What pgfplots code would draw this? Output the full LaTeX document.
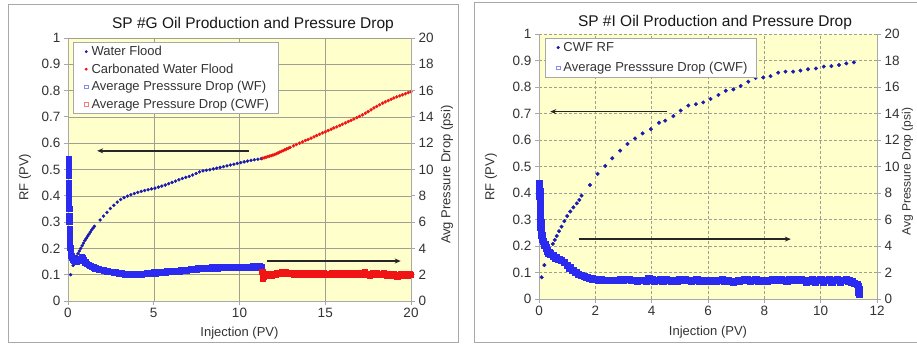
\documentclass[border=0pt]{standalone}
\usepackage{fontspec}
\setmainfont{Liberation Sans}
\usepackage{pgfplots}
\pgfplotsset{compat=1.18}
\usetikzlibrary{arrows.meta}
\definecolor{bgY}{HTML}{FFFFCC}
\definecolor{rfBlue}{HTML}{1A1AB0}
\definecolor{pBlue}{HTML}{2A2AF0}
\definecolor{cRed}{HTML}{F01414}
\definecolor{frameG}{HTML}{A8A8A8}
\definecolor{gridG}{HTML}{A0A090}
\definecolor{txt}{HTML}{333333}
\tikzset{arr/.style={draw=black!85, line width=1.5pt, -{Stealth[length=6pt,width=5pt]}}}
\pgfplotsset{
  base/.style={scale only axis, anchor=south west,
    /pgf/number format/assume math mode=true,
    font=\fontsize{13}{15}\selectfont,
    tick label style={color=txt, font=\fontsize{13.5}{15}\selectfont},
    label style={color=txt},
    axis line style={frameG, line width=0.8pt},
    tick style={frameG, line width=0.8pt},
    major tick length=4pt, tick align=outside,
    legend cell align=left,
    legend image code/.code={\path (0pt,-2pt) (8.5pt,2pt); \draw[mark repeat=2,mark phase=2,##1] plot coordinates {(0pt,0pt) (5.5pt,0pt) (11pt,0pt)};},
    legend style={draw=frameG, fill=white, text=txt, font=\fontsize{13}{15}\selectfont,
      row sep=2.6pt, inner xsep=7pt, inner ysep=2pt, line width=0.6pt},
  },
}
\begin{document}
\begin{tikzpicture}
\path[use as bounding box] (0pt,0pt) rectangle (917pt,345pt);
\draw[frameG, line width=1pt, fill=white] (8pt,3pt) rectangle (458pt,340pt);
\draw[frameG, line width=1pt, fill=white] (474pt,3pt) rectangle (940pt,342pt);

% ---------------- LEFT PANEL: RF axis ----------------
\begin{axis}[base, at={(68pt,44pt)}, width=343pt, height=263pt,
  xmin=0, xmax=20, ymin=0, ymax=1,
  axis x line*=bottom, axis y line*=left,
  axis background/.style={fill=bgY},
  xtick={0,5,10,15,20},
  ytick={0,0.1,0.2,0.3,0.4,0.5,0.6,0.7,0.8,0.9,1},
  yticklabels={0,0.1,0.2,0.3,0.4,0.5,0.6,0.7,0.8,0.9,1},
  grid=major, major grid style={gridG, line width=0.5pt},
  xlabel={Injection (PV)}, ylabel={RF (PV)},
  xlabel style={at={(axis description cs:0.5,-0.122)}, anchor=center},
  ylabel style={at={(axis description cs:-0.125,0.47)}, anchor=center},
]
\addplot[only marks, mark=*, mark size=1.5pt, color=rfBlue] coordinates {
(0.15,0.10) (0.3,0.135) (0.45,0.16)
(0.5,0.17) (0.58,0.18) (0.66,0.19) (0.74,0.20) (0.82,0.21) (0.9,0.22) (0.98,0.23)
(1.06,0.238) (1.14,0.246) (1.22,0.254) (1.3,0.262) (1.38,0.27) (1.46,0.277) (1.54,0.284)
(1.87,0.308) (2.07,0.323) (2.27,0.337) (2.47,0.352) (2.67,0.364) (2.87,0.376) (3.07,0.386)
(3.27,0.393) (3.47,0.399) (3.67,0.404) (3.87,0.409) (4.07,0.413) (4.27,0.417) (4.47,0.42)
(4.67,0.423) (4.87,0.426) (5.07,0.429) (5.27,0.433) (5.47,0.437) (5.67,0.441) (5.87,0.446)
(6.07,0.451) (6.27,0.456) (6.47,0.461) (6.67,0.466) (6.87,0.47) (7.07,0.474) (7.27,0.479)
(7.47,0.485) (7.67,0.491) (7.87,0.495) (8.07,0.497) (8.27,0.499) (8.47,0.502) (8.67,0.505)
(8.87,0.508) (9.07,0.511) (9.27,0.514) (9.47,0.517) (9.67,0.52) (9.87,0.523) (10.07,0.526)
(10.27,0.529) (10.47,0.532) (10.67,0.535) (10.87,0.537) (11.07,0.539) (11.27,0.541)
};
\addplot[only marks, mark=*, mark size=1.5pt, color=cRed] coordinates {
(11.35,0.543) (11.45,0.545) (11.55,0.547) (11.65,0.549) (11.75,0.551) (11.85,0.553) (11.95,0.555)
(12.05,0.557) (12.15,0.56) (12.25,0.563) (12.35,0.566) (12.45,0.569) (12.55,0.572) (12.65,0.575)
(12.75,0.578) (12.85,0.581) (12.95,0.584) (13.15,0.59) (13.32,0.595) (13.5,0.6) (13.67,0.605)
(13.84,0.61) (14.0,0.614) (14.17,0.619) (14.34,0.624) (14.5,0.629) (14.67,0.634) (14.84,0.639)
(15.0,0.643) (15.17,0.648) (15.34,0.653) (15.5,0.658) (15.67,0.662) (15.84,0.667) (16.0,0.672)
(16.17,0.677) (16.34,0.682) (16.5,0.687) (16.67,0.692) (16.84,0.697) (17.0,0.702) (17.17,0.708)
(17.34,0.714) (17.5,0.72) (17.67,0.727) (17.84,0.734) (18.0,0.74) (18.17,0.746) (18.34,0.752)
(18.5,0.757) (18.67,0.762) (18.84,0.767) (19.0,0.772) (19.17,0.776) (19.34,0.78) (19.5,0.784)
(19.67,0.788) (19.84,0.792) (20.0,0.795)
};
\draw[arr] (axis cs:10.55,0.571) -- (axis cs:1.7,0.571);
\draw[arr] (axis cs:11.6,0.152) -- (axis cs:19.4,0.152);
\end{axis}

% ---------------- LEFT PANEL: pressure axis ----------------
\begin{axis}[base, at={(68pt,44pt)}, width=343pt, height=263pt,
  xmin=0, xmax=20, ymin=0, ymax=20, clip=false,
  axis x line=none, axis y line*=right,
  ytick={0,2,4,6,8,10,12,14,16,18,20},
  ylabel={Avg Pressure Drop (psi)},
  ylabel style={at={(axis description cs:1.105,0.48)}, anchor=center},
  legend style={at={(0.015,0.985)}, anchor=north west},
]
\addlegendimage{only marks, mark=*, mark size=1.1pt, color=rfBlue}
\addlegendentry{Water Flood}
\addlegendimage{only marks, mark=*, mark size=1.1pt, color=cRed}
\addlegendentry{Carbonated Water Flood}
\addlegendimage{only marks, mark=square, mark size=1.7pt, color=pBlue!55, line width=0.6pt}
\addlegendentry{Average Presssure Drop (WF)}
\addlegendimage{only marks, mark=square, mark size=1.7pt, color=cRed!55, line width=0.6pt}
\addlegendentry{Average Pressure Drop (CWF)}
\addplot[forget plot, only marks, mark=square*, mark size=2.7pt, line width=0.6pt, color=pBlue, fill=pBlue] coordinates {
(0.03,10.8) (0.03,10.4) (0.04,10.0) (0.04,9.5) (0.05,9.0) (0.05,8.5) (0.06,8.0) (0.06,7.5)
(0.07,7.0) (0.07,6.5) (0.08,6.0) (0.09,5.5) (0.1,5.1) (0.11,4.7) (0.12,4.35) (0.14,4.05)
(0.16,3.8) (0.18,3.6) (0.2,3.45) (0.25,3.3) (0.3,3.15) (0.35,3.1) (0.4,3.05) (0.5,3.0)
(0.6,3.05) (0.7,3.2) (0.8,3.35) (0.85,3.3) (0.9,3.15) (1.0,2.95) (1.1,2.85) (1.2,2.75)
(1.3,2.68) (1.4,2.6) (1.5,2.55) (1.6,2.5) (1.7,2.46) (1.8,2.42) (1.9,2.38) (2.0,2.35)
(2.1,2.32) (2.2,2.3) (2.3,2.27) (2.4,2.24) (2.5,2.22) (2.6,2.2) (2.7,2.18) (2.8,2.17)
(2.9,2.14) (3.0,2.12) (3.1,2.1) (3.2,2.08) (3.3,2.02) (3.4,2.06) (3.5,2.01) (3.6,2.04)
(3.7,2.0) (3.8,2.06) (3.9,2.01) (4.0,2.04) (4.1,2.0) (4.2,2.06) (4.3,2.03) (4.4,2.08)
(4.5,2.05) (4.6,2.12) (4.7,2.08) (4.8,2.14) (4.9,2.1) (5.0,2.17) (5.1,2.12) (5.2,2.18)
(5.3,2.14) (5.4,2.22) (5.5,2.16) (5.6,2.23) (5.7,2.18) (5.8,2.25) (5.9,2.21) (6.0,2.26)
(6.1,2.22) (6.2,2.29) (6.3,2.24) (6.4,2.31) (6.5,2.27) (6.6,2.33) (6.7,2.29) (6.8,2.36)
(6.9,2.32) (7.0,2.39) (7.1,2.35) (7.2,2.42) (7.3,2.38) (7.4,2.45) (7.5,2.41) (7.6,2.48)
(7.7,2.44) (7.8,2.5) (7.9,2.46) (8.0,2.53) (8.1,2.47) (8.2,2.54) (8.3,2.48) (8.4,2.55)
(8.5,2.5) (8.6,2.57) (8.7,2.5) (8.8,2.56) (8.9,2.51) (9.0,2.58) (9.1,2.52) (9.2,2.57)
(9.3,2.51) (9.4,2.59) (9.5,2.53) (9.6,2.58) (9.7,2.52) (9.8,2.6) (9.9,2.54) (10.0,2.59)
(10.1,2.53) (10.2,2.6) (10.3,2.55) (10.4,2.61) (10.5,2.54) (10.6,2.6) (10.7,2.55) (10.8,2.63)
(10.9,2.56) (11.0,2.62) (11.1,2.57) (11.2,2.66) (11.3,2.6)
};
\addplot[forget plot, only marks, mark=square*, mark size=2.7pt, line width=0.6pt, color=cRed, fill=cRed] coordinates {
(11.33,2.2) (11.35,1.72) (11.4,1.85) (11.5,1.95) (11.6,2.02) (11.7,1.9) (11.8,2.04) (11.9,1.95)
(12.0,2.08) (12.1,1.98) (12.2,2.1) (12.3,2.16) (12.4,2.12) (12.5,2.2) (12.6,2.1) (12.7,2.18)
(12.8,2.08) (12.9,2.16) (13.0,2.06) (13.1,2.14) (13.2,2.03) (13.3,2.12) (13.4,2.02) (13.5,2.1)
(13.6,2.15) (13.7,2.02) (13.8,2.12) (13.9,1.99) (14.0,2.09) (14.1,2.15) (14.2,2.01) (14.3,2.1)
(14.4,1.97) (14.5,2.07) (14.6,2.13) (14.7,2.0) (14.8,2.1) (14.9,2.15) (15.0,2.03) (15.1,1.97)
(15.2,2.09) (15.3,2.02) (15.4,2.13) (15.5,1.99) (15.6,2.1) (15.7,2.03) (15.8,1.97) (15.9,2.08)
(16.0,2.13) (16.1,2.0) (16.2,2.1) (16.3,2.15) (16.4,2.02) (16.5,2.11) (16.6,1.99) (16.7,2.09)
(16.8,2.15) (16.9,2.04) (17.0,2.12) (17.1,2.01) (17.2,2.11) (17.3,2.2) (17.4,2.08) (17.5,1.99)
(17.6,1.9) (17.7,2.05) (17.8,2.12) (17.9,2.0) (18.0,2.1) (18.1,1.97) (18.2,2.07) (18.3,1.99)
(18.4,2.1) (18.5,2.02) (18.6,1.96) (18.7,2.07) (18.8,1.99) (18.9,1.94) (19.0,2.04) (19.1,1.94)
(19.2,1.86) (19.3,1.92) (19.4,2.02) (19.5,1.94) (19.6,2.04) (19.7,1.98) (19.8,1.93) (19.9,2.02)
(20.0,1.98)
};
\end{axis}

% ---------------- RIGHT PANEL: RF axis ----------------
\begin{axis}[base, at={(539pt,46pt)}, width=338pt, height=265pt,
  xmin=0, xmax=12, ymin=0, ymax=1,
  axis x line*=bottom, axis y line*=left,
  axis background/.style={fill=bgY},
  xtick={0,2,4,6,8,10,12},
  ytick={0,0.1,0.2,0.3,0.4,0.5,0.6,0.7,0.8,0.9,1},
  yticklabels={0,0.1,0.2,0.3,0.4,0.5,0.6,0.7,0.8,0.9,1},
  grid=major, major grid style={gridG, line width=0.5pt, densely dashed},
  xlabel={Injection (PV)}, ylabel={RF (PV)},
  xlabel style={at={(axis description cs:0.5,-0.125)}, anchor=center},
  ylabel style={at={(axis description cs:-0.142,0.46)}, anchor=center},
]
\addplot[only marks, mark=*, mark size=1.8pt, color=rfBlue] coordinates {
(0.095,0.082) (0.19,0.128) (0.49,0.208) (0.56,0.223) (0.63,0.238) (0.71,0.256) (0.8,0.273)
(0.9,0.294) (1.0,0.313) (1.11,0.33) (1.22,0.346) (1.34,0.361) (1.43,0.374) (1.51,0.39)
(1.81,0.43) (2.08,0.472) (2.35,0.502) (2.6,0.531) (2.88,0.56) (3.14,0.585) (3.41,0.606)
(3.68,0.625) (3.97,0.641) (4.26,0.665) (4.48,0.673) (4.77,0.69) (5.03,0.711) (5.3,0.73)
(5.57,0.735) (5.83,0.742) (6.09,0.755) (6.37,0.77) (6.63,0.786) (6.9,0.791) (7.16,0.804)
(7.43,0.82) (7.69,0.834) (7.96,0.836) (8.22,0.841) (8.49,0.854) (8.75,0.858) (9.02,0.858)
(9.28,0.862) (9.55,0.867) (9.83,0.87) (10.11,0.877) (10.38,0.879) (10.65,0.883) (10.91,0.889)
(11.18,0.893)
};
\draw[arr] (axis cs:4.56,0.707) -- (axis cs:0.4,0.707);
\draw[arr] (axis cs:1.41,0.226) -- (axis cs:8.94,0.226);
\end{axis}

% ---------------- RIGHT PANEL: pressure axis ----------------
\begin{axis}[base, at={(539pt,46pt)}, width=338pt, height=265pt,
  xmin=0, xmax=12, ymin=0, ymax=20, clip=false,
  axis x line=none, axis y line*=right,
  ytick={0,2,4,6,8,10,12,14,16,18,20},
  ylabel={Avg Pressure Drop (psi)},
  ylabel style={at={(axis description cs:1.09,0.48)}, anchor=center, font=\fontsize{12}{14}\selectfont},
  legend style={at={(0.018,0.985)}, anchor=north west, row sep=5.5pt},
]
\addlegendimage{only marks, mark=*, mark size=1.3pt, color=rfBlue}
\addlegendentry{CWF RF}
\addlegendimage{only marks, mark=square, mark size=1.9pt, color=pBlue!55, line width=0.6pt}
\addlegendentry{Average Presssure Drop (CWF)}
\addplot[forget plot, only marks, mark=square*, mark size=3.2pt, line width=0.6pt, color=pBlue, fill=pBlue] coordinates {
(0.02,8.7) (0.02,8.4) (0.03,8.1) (0.03,7.8) (0.04,7.4) (0.04,7.0) (0.05,6.6) (0.05,6.2)
(0.06,5.8) (0.07,5.4) (0.08,5.1) (0.1,4.8) (0.12,4.55) (0.15,4.35) (0.2,4.1) (0.25,3.85)
(0.3,3.65) (0.35,3.5) (0.4,3.4) (0.5,3.25) (0.6,3.1) (0.7,3.0) (0.8,2.9) (0.9,2.75)
(1.0,2.55) (1.1,2.35) (1.2,2.15) (1.3,2.0) (1.4,1.88) (1.5,1.78) (1.6,1.7) (1.7,1.62)
(1.8,1.56) (1.9,1.52) (2.0,1.5) (2.1,1.46) (2.2,1.44) (2.3,1.42) (2.4,1.4) (2.5,1.42)
(2.6,1.39) (2.7,1.43) (2.8,1.41) (2.9,1.45) (3.0,1.43) (3.1,1.5) (3.2,1.48) (3.3,1.42)
(3.4,1.4) (3.5,1.38) (3.6,1.43) (3.7,1.4) (3.8,1.36) (3.9,1.52) (4.0,1.45) (4.1,1.32)
(4.2,1.4) (4.3,1.44) (4.4,1.38) (4.5,1.46) (4.6,1.4) (4.7,1.35) (4.8,1.42) (4.9,1.38)
(5.0,1.44) (5.1,1.4) (5.2,1.5) (5.3,1.42) (5.4,1.36) (5.5,1.4) (5.6,1.44) (5.7,1.38)
(5.8,1.35) (5.9,1.4) (6.0,1.37) (6.1,1.42) (6.2,1.38) (6.3,1.34) (6.4,1.4) (6.5,1.44)
(6.6,1.38) (6.7,1.36) (6.8,1.32) (6.9,1.28) (7.0,1.33) (7.1,1.38) (7.2,1.42) (7.3,1.5)
(7.4,1.44) (7.5,1.36) (7.6,1.42) (7.7,1.48) (7.8,1.38) (7.9,1.34) (8.0,1.4) (8.1,1.37)
(8.2,1.42) (8.3,1.44) (8.4,1.4) (8.5,1.46) (8.6,1.5) (8.7,1.42) (8.8,1.38) (8.9,1.44)
(9.0,1.46) (9.1,1.43) (9.2,1.47) (9.3,1.44) (9.4,1.42) (9.5,1.28) (9.6,1.36) (9.7,1.45)
(9.8,1.3) (9.9,1.42) (10.0,1.48) (10.1,1.25) (10.2,1.4) (10.3,1.46) (10.4,1.3) (10.5,1.42)
(10.6,1.48) (10.7,1.28) (10.8,1.4) (10.9,1.5) (11.0,1.38) (11.1,1.3) (11.2,1.18) (11.3,1.12)
(11.33,0.95) (11.35,0.75) (11.36,0.55) (11.37,0.35)
};
\end{axis}

\node[font=\fontsize{15.5}{17}\selectfont, text=black!90] at (253pt,321pt) {SP \#G Oil Production and Pressure Drop};
\node[font=\fontsize{15.5}{17}\selectfont, text=black!90] at (715pt,323pt) {SP \#I Oil Production and Pressure Drop};
\end{tikzpicture}
\end{document}
